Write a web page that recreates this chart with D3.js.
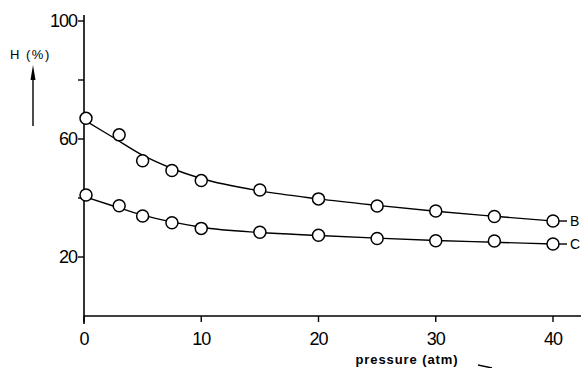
<!DOCTYPE html>
<html>
<head>
<meta charset="utf-8">
<script src="https://cdn.jsdelivr.net/npm/d3@7"></script>
<style>
  body { margin: 0; background: #fff; }
  svg { display: block; }
</style>
</head>
<body>
<div id="chart"></div>
<script>
// pressure (atm) of the measured points
const pressure = [0, 3, 5, 7.5, 10, 15, 20, 25, 30, 35, 40];
// H (%) measured points
const seriesB = [67, 61.4, 52.6, 49.3, 45.9, 42.7, 39.7, 37.3, 35.6, 33.7, 32.2];
const seriesC = [41, 37.4, 33.9, 31.6, 29.7, 28.4, 27.4, 26.3, 25.5, 25.4, 24.4];
// drawn smooth curves
const curvePressure = [0, 2.5, 5, 7.5, 10, 15, 20, 25, 30, 35, 40];
const curveB = [66.5, 60.5, 54.5, 50, 46.6, 42.4, 39.7, 37.5, 35.5, 33.8, 32.2];
const curveC = [40.5, 37.3, 34.2, 31.9, 30.1, 28.3, 27.3, 26.4, 25.6, 25.0, 24.4];
const seriesNames = ["B", "C"];
const xTicks = [0, 10, 20, 30, 40];
const yTicks = [20, 40, 60, 80, 100];
const yLabels = [20, 60, 100];

const width = 581, height = 368;
const font = "'Liberation Sans', 'DejaVu Sans', sans-serif";

const svg = d3.select("#chart").append("svg")
  .attr("width", width)
  .attr("height", height);

const x = d3.scaleLinear().domain([0, 40]).range([84, 553]);
const y = d3.scaleLinear().domain([0, 100]).range([316, 21]);

// axes
const g = svg.append("g").attr("stroke", "#000").attr("fill", "none");
g.append("line")
  .attr("x1", x(0)).attr("x2", width)
  .attr("y1", y(0)).attr("y2", y(0))
  .attr("stroke-width", 1.6);
g.append("line")
  .attr("x1", x(0)).attr("x2", x(0))
  .attr("y1", y(100) - 6).attr("y2", y(0) + 8)
  .attr("stroke-width", 1.6);

// y ticks (outward)
g.selectAll(".yt").data(yTicks).join("line")
  .attr("x1", x(0) - 6).attr("x2", x(0))
  .attr("y1", d => y(d)).attr("y2", d => y(d))
  .attr("stroke-width", 1.4);

// x ticks (downward)
g.selectAll(".xt").data(xTicks).join("line")
  .attr("x1", d => x(d)).attr("x2", d => x(d))
  .attr("y1", y(0)).attr("y2", y(0) + 6)
  .attr("stroke-width", 1.4);

svg.selectAll(".ylab").data(yLabels).join("text")
  .attr("x", x(0) - 7)
  .attr("y", d => y(d))
  .attr("dy", "0.36em")
  .attr("text-anchor", "end")
  .attr("font-family", font)
  .attr("font-size", 18)
  .attr("letter-spacing", -1)
  .text(d => d);

svg.selectAll(".xlab").data(xTicks).join("text")
  .attr("x", d => x(d))
  .attr("y", y(0) + 29)
  .attr("text-anchor", "middle")
  .attr("font-family", font)
  .attr("font-size", 18)
  .attr("letter-spacing", -1)
  .text(d => d);

// y axis title with arrow
svg.append("text")
  .attr("x", 10).attr("y", 59)
  .attr("font-family", font)
  .attr("font-size", 13)
  .attr("letter-spacing", 1.5)
  .text("H (%)");
svg.append("line")
  .attr("x1", 33).attr("x2", 33)
  .attr("y1", 126).attr("y2", 76)
  .attr("stroke", "#000").attr("stroke-width", 1.4);
svg.append("path")
  .attr("d", "M30.5,80 L33,65 L35.5,80 Z")
  .attr("fill", "#000");

// x axis title
svg.append("text")
  .attr("x", 407).attr("y", 364)
  .attr("text-anchor", "middle")
  .attr("font-family", font)
  .attr("font-size", 13)
  .attr("font-weight", "bold")
  .attr("letter-spacing", 0.9)
  .text("pressure (atm)");
svg.append("line")
  .attr("x1", 478).attr("x2", 492)
  .attr("y1", 365).attr("y2", 368)
  .attr("stroke", "#000").attr("stroke-width", 1.4);

const series = [seriesB, seriesC].map((vals, i) => ({
  name: seriesNames[i],
  points: pressure.map((p, j) => ({ p, v: vals[j] })),
  curve: curvePressure.map((p, j) => ({ p, v: [curveB, curveC][i][j] }))
}));

const line = d3.line()
  .x(d => x(d.p))
  .y(d => y(d.v))
  .curve(d3.curveMonotoneX);

const sg = svg.selectAll(".series").data(series).join("g");

sg.append("path")
  .attr("d", d => line(d.curve))
  .attr("fill", "none")
  .attr("stroke", "#000")
  .attr("stroke-width", 1.4);

sg.selectAll("circle").data(d => d.points).join("circle")
  .attr("cx", d => x(d.p) + (d.p === 0 ? 2 : 0))
  .attr("cy", d => y(d.v))
  .attr("r", 6)
  .attr("fill", "#fff")
  .attr("stroke", "#000")
  .attr("stroke-width", 1.5);

// end labels
sg.append("line")
  .attr("x1", d => x(40) + 6).attr("x2", d => x(40) + 14)
  .attr("y1", d => y(d.points[d.points.length - 1].v))
  .attr("y2", d => y(d.points[d.points.length - 1].v))
  .attr("stroke", "#000").attr("stroke-width", 1.4);
sg.append("text")
  .attr("x", x(40) + 17)
  .attr("y", d => y(d.points[d.points.length - 1].v))
  .attr("dy", "0.36em")
  .attr("font-family", font)
  .attr("font-size", 14)
  .text(d => d.name);
</script>
</body>
</html>
